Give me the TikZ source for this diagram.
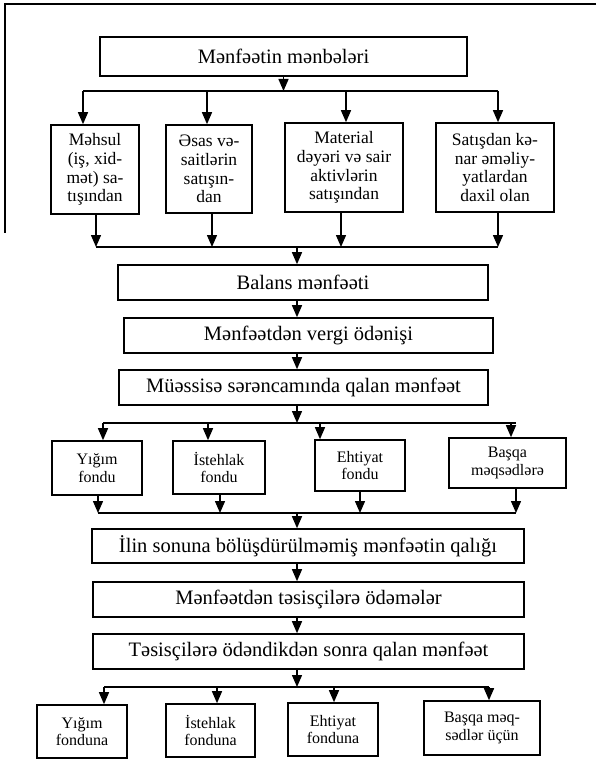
\documentclass[tikz,border=0pt]{standalone}
\usepackage{fontspec}
\setmainfont{Liberation Serif}
\usetikzlibrary{arrows.meta}
\begin{document}
\begin{tikzpicture}[x=1pt,y=-1pt,
  box/.style={draw,line width=1.6pt,inner sep=0pt,align=center},
  bigbox/.style={box,font=\fontsize{20.5}{24}\selectfont},
  midbox/.style={box,font=\fontsize{17.5}{18.8}\selectfont},
  fundbox/.style={box,font=\fontsize{16}{17.5}\selectfont},
  arr/.style={line width=1.4pt,-{Triangle[width=10pt,length=12pt]}},
  ln/.style={line width=1.4pt}]
\useasboundingbox (0,0) rectangle (596,759);
% page frame
\draw[ln] (596,4) -- (5,4) -- (5,233);

% top
\node[bigbox,minimum width=367pt,minimum height=39pt] (T) at (283.5,56.5) {Mənfəətin mənbələri};

% row 1
\node[midbox,minimum width=88pt,minimum height=89pt] (A1) at (95,169.5) {Məhsul\\(iş, xid-\\mət) sa-\\tışından};
\node[midbox,minimum width=86pt,minimum height=88pt] (A2) at (209,169) {Əsas və-\\saitlərin\\satışın-\\dan};
\node[midbox,minimum width=118pt,minimum height=89pt] (A3) at (344,167.5) {Material\\dəyəri və sair\\aktivlərin\\satışından};
\node[midbox,minimum width=118pt,minimum height=89pt] (A4) at (495,167.5) {Satışdan kə-\\nar əməliy-\\yatlardan\\daxil olan};

% chain
\node[bigbox,minimum width=370pt,minimum height=35pt] (B) at (303,282.5) {Balans mənfəəti};
\node[bigbox,minimum width=369pt,minimum height=35pt] (V) at (308.5,335.5) {Mənfəətdən vergi ödənişi};
\node[bigbox,minimum width=369pt,minimum height=35pt] (M) at (303.5,387.5) {Müəssisə sərəncamında qalan mənfəət};

% funds row
\node[fundbox,minimum width=90pt,minimum height=54pt] (F1) at (97,468) {Yığım\\fondu};
\node[fundbox,minimum width=92pt,minimum height=53pt] (F2) at (219,467.5) {İstehlak\\fondu};
\node[fundbox,minimum width=90pt,minimum height=51pt] (F3) at (360,465.5) {Ehtiyat\\fondu};
\node[fundbox,minimum width=117pt,minimum height=50pt] (F4) at (507.5,463) {Başqa\\məqsədlərə};

% lower chain
\node[bigbox,minimum width=432pt,minimum height=34pt] (I) at (308,546) {İlin sonuna bölüşdürülməmiş mənfəətin qalığı};
\node[bigbox,minimum width=431pt,minimum height=35pt] (O) at (308.5,599.5) {Mənfəətdən təsisçilərə ödəmələr};
\node[bigbox,minimum width=431pt,minimum height=35pt] (D) at (308.5,651.5) {Təsisçilərə ödəndikdən sonra qalan mənfəət};

% bottom row
\node[fundbox,minimum width=90pt,minimum height=53pt] (G1) at (82,731.5) {Yığım\\fonduna};
\node[fundbox,minimum width=89pt,minimum height=53pt] (G2) at (210.5,730.5) {İstehlak\\fonduna};
\node[fundbox,minimum width=90pt,minimum height=53pt] (G3) at (333,729.5) {Ehtiyat\\fonduna};
\node[fundbox,minimum width=116pt,minimum height=54pt] (G4) at (482,728) {Başqa məq-\\sədlər üçün};

% junction coordinates
\coordinate (r1a) at (83,91);  \coordinate (r1b) at (207,91);
\coordinate (r1c) at (346,91); \coordinate (r1d) at (498,91);
\coordinate (s1a) at (96,247); \coordinate (s1b) at (212,247);
\coordinate (s1c) at (341,247); \coordinate (s1d) at (498,247);
\coordinate (m1) at (297,247);
\coordinate (r2a) at (103,423); \coordinate (r2b) at (208,423);
\coordinate (r2c) at (320,423); \coordinate (r2d) at (511,423);
\coordinate (r2e) at (516,423);
\coordinate (s2a) at (98,513); \coordinate (s2b) at (220,513);
\coordinate (s2c) at (360,513); \coordinate (s2d) at (516,513);
\coordinate (m2) at (297,513);
\coordinate (r3a) at (104,687); \coordinate (r3b) at (217,687);
\coordinate (r3c) at (334,687); \coordinate (r3d) at (489,687);

% connectors: top fan-out
\draw[arr] (T.south) -- (T.south |- r1a);
\draw[ln] (r1a) -- (r1d);
\draw[arr] (r1a) -- (r1a |- A1.north);
\draw[arr] (r1b) -- (r1b |- A2.north);
\draw[arr] (r1c) -- (r1c |- A3.north);
\draw[arr] (r1d) -- (r1d |- A4.north);
% fan-in
\draw[arr] (s1a |- A1.south) -- (s1a);
\draw[arr] (s1b |- A2.south) -- (s1b);
\draw[arr] (s1c |- A3.south) -- (s1c);
\draw[arr] (s1d |- A4.south) -- (s1d);
\draw[ln] (s1a) -- (s1d);
\draw[arr] (m1) -- (m1 |- B.north);
\draw[arr] (B.south -| m1) -- (V.north -| m1);
\draw[arr] (V.south -| m1) -- (M.north -| m1);
\draw[arr] (M.south -| m1) -- (m1 |- r2a);
% funds fan-out
\draw[ln] (r2a) -- (r2e);
\draw[arr] (r2a) -- (r2a |- F1.north);
\draw[arr] (r2b) -- (r2b |- F2.north);
\draw[arr] (r2c) -- (r2c |- F3.north);
\draw[arr] (r2d) -- (r2d |- F4.north);
% funds fan-in
\draw[arr] (s2a |- F1.south) -- (s2a);
\draw[arr] (s2b |- F2.south) -- (s2b);
\draw[arr] (s2c |- F3.south) -- (s2c);
\draw[arr] (s2d |- F4.south) -- (s2d);
\draw[ln] (s2a) -- (s2d);
\draw[arr] (m2) -- (m2 |- I.north);
\draw[arr] (I.south -| m2) -- (O.north -| m2);
\draw[arr] (O.south -| m2) -- (D.north -| m2);
\draw[arr] (D.south -| m2) -- (m2 |- r3a);
% bottom fan-out
\draw[ln] (r3a) -- (r3d);
\draw[arr] (r3a) -- (r3a |- G1.north);
\draw[arr] (r3b) -- (r3b |- G2.north);
\draw[arr] (r3c) -- (r3c |- G3.north);
\draw[arr] (r3d) -- (r3d |- G4.north);
\end{tikzpicture}
\end{document}
